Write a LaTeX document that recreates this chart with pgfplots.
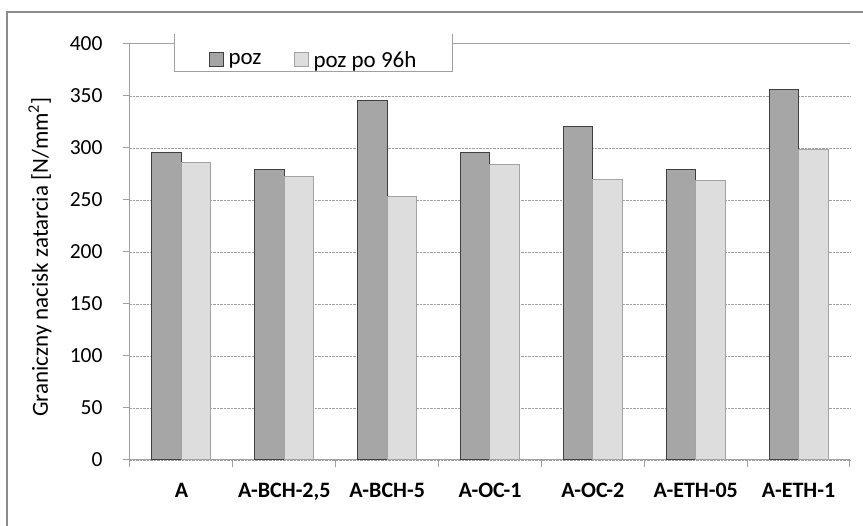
\documentclass[border=0pt]{standalone}
\usepackage{fontspec}
\setmainfont{Carlito}
\usepackage{pgfplots}
\pgfplotsset{compat=1.18}

\definecolor{barDark}{HTML}{A6A6A6}
\definecolor{barDarkEdge}{HTML}{3F3F3F}
\definecolor{barLight}{HTML}{DDDDDD}
\definecolor{barLightEdge}{HTML}{A3A3A3}
\definecolor{axisGray}{HTML}{A0A0A0}
\definecolor{frameGray}{HTML}{8C8C8C}

\begin{document}
\begin{tikzpicture}
\useasboundingbox (-130pt,-66pt) rectangle (733pt,460pt);
\begin{axis}[
  at={(0pt,0pt)}, anchor=south west,
  scale only axis, width=720pt, height=416pt,
  xmin=-0.5, xmax=6.5, ymin=0, ymax=400,
  ybar=0pt, bar width=29.5pt,
  axis x line*=bottom, axis y line*=left,
  axis line style={axisGray, line width=1pt},
  xtick={-0.5,0.5,...,6.5}, x tick label as interval,
  xticklabels={A, {A-BCH-2,5}, A-BCH-5, A-OC-1, A-OC-2, A-ETH-05, A-ETH-1},
  xticklabel style={font=\fontsize{22}{26}\selectfont\bfseries, yshift=-13pt},
  ytick={0,50,...,350}, extra y ticks={400}, extra y tick style={grid=none},
  yticklabel style={font=\fontsize{21.5}{25}\selectfont, xshift=-17pt},
  /pgf/number format/assume math mode=true,
  ymajorgrids, grid style={axisGray, densely dotted, line width=0.8pt},
  tick align=outside, major tick length=7pt,
  tick style={axisGray, line width=1pt},
  ylabel={Graniczny nacisk zatarcia [N/mm\textsuperscript{2}]},
  ylabel style={at={(axis description cs:-0.125,0.488)}, anchor=center,
    font=\fontsize{23}{27}\selectfont},
  legend columns=2,
  legend style={at={(axis description cs:0.2549,0.962)}, anchor=center,
    draw=none, fill=none, font=\fontsize{23}{27}\selectfont,
    /tikz/every odd column/.append style={column sep=3pt},
    /tikz/every even column/.append style={column sep=30pt}},
  legend image code/.code={\draw[#1] (0pt,-7pt) rectangle (14pt,7pt);},
]
\addplot[fill=barDark, draw=barDarkEdge, line width=1pt]
  coordinates {(0,296) (1,279) (2,346) (3,296) (4,321) (5,279) (6,356)};
\addlegendentry{poz}
\addplot[fill=barLight, draw=barLightEdge, line width=1pt]
  coordinates {(0,286) (1,273) (2,253) (3,284) (4,270) (5,269) (6,299)};
\addlegendentry{poz po 96h}
\end{axis}
% top edge of the plot area, broken by the legend box
\draw[axisGray, line width=1pt] (0pt,416pt) -- (45pt,416pt) (322pt,416pt) -- (720pt,416pt);
% legend box (open at the top)
\draw[axisGray, line width=1pt] (45pt,426pt) -- (45pt,388pt) -- (322pt,388pt) -- (322pt,426pt);
% chart area frame
\draw[frameGray, line width=1.5pt] (-123pt,-70pt) -- (-123pt,448pt) -- (740pt,448pt);
\end{tikzpicture}
\end{document}
